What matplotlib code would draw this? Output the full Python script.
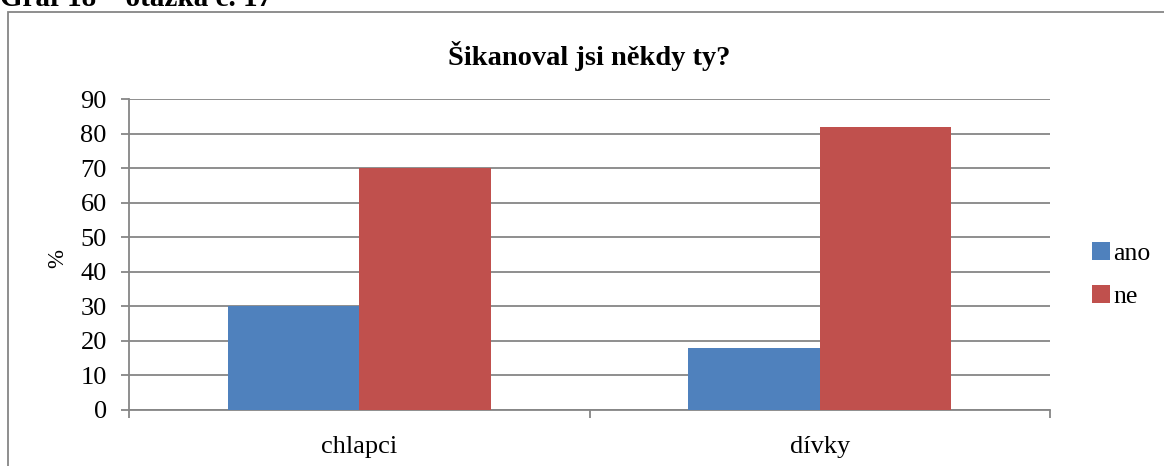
import matplotlib
matplotlib.use("Agg")
import matplotlib.pyplot as plt
from matplotlib.patches import Rectangle
import numpy as np

categories = ["chlapci", "dívky"]
series_names = ["ano", "ne"]
ano = [30, 18]
ne = [70, 82]
yticks = [0, 10, 20, 30, 40, 50, 60, 70, 80, 90]

plt.rcParams['font.family'] = ['Liberation Serif', 'DejaVu Serif']

W, H = 1164, 466
fig = plt.figure(figsize=(W / 100, H / 100), dpi=100)

def fx(px):
    return px / W

def fy(py):
    return 1 - py / H

# outer chart border
border = Rectangle((fx(8), fy(600)), fx(1300), fy(12) - fy(600), transform=fig.transFigure,
                   fill=False, edgecolor='#868686', linewidth=1.3, clip_on=False)
fig.add_artist(border)

# cut heading at top
fig.text(fx(0), fy(6), "Graf 18 – otázka č. 17", fontsize=21, fontweight='bold',
         ha='left', va='baseline')

ax = fig.add_axes([fx(129), fy(410), fx(1050) - fx(129), fy(99) - fy(410)])

x = np.arange(len(categories))
gap = 1.5
bw = 1 / (2 + gap)
blue = '#4F81BD'
red = '#C0504D'
ax.bar(x - bw / 2, ano, width=bw, color=blue, label=series_names[0], zorder=3)
ax.bar(x + bw / 2, ne, width=bw, color=red, label=series_names[1], zorder=3)

ax.set_xlim(-0.5, len(categories) - 0.5)
ax.set_ylim(0, 90)
ax.set_yticks(yticks)
ax.set_yticklabels([str(v) for v in yticks], fontsize=19)
ax.set_xticks([-0.5, 0.5, 1.5])
ax.set_xticklabels([])
ax.set_xticks(x, minor=True)
ax.set_xticklabels(categories, minor=True, fontsize=19)
ax.tick_params(axis='x', which='minor', length=0, pad=18.5)
ax.tick_params(axis='x', which='major', length=6, width=1.3, color='#868686', direction='out')
ax.tick_params(axis='y', length=6, width=1.3, color='#868686', direction='out', pad=10)

ax.grid(axis='y', color='#868686', linewidth=1.3, zorder=0)
for s in ['top', 'right']:
    ax.spines[s].set_visible(False)
for s in ['left', 'bottom']:
    ax.spines[s].set_color('#868686')
    ax.spines[s].set_linewidth(1.3)

ax.set_ylabel("%", fontsize=16.5)
ax.yaxis.set_label_coords((68 - 129) / 921, (410 - 258) / 311)

ax.set_title("Šikanoval jsi někdy ty?", fontsize=20.5, fontweight='bold', pad=24.5)

leg = ax.legend(loc='center left', bbox_to_anchor=(1.02, 0.434), frameon=False, fontsize=18.5,
                handlelength=0.7, handleheight=0.7, handletextpad=0.15, labelspacing=0.8)

fig.savefig("out.png", dpi=100)
